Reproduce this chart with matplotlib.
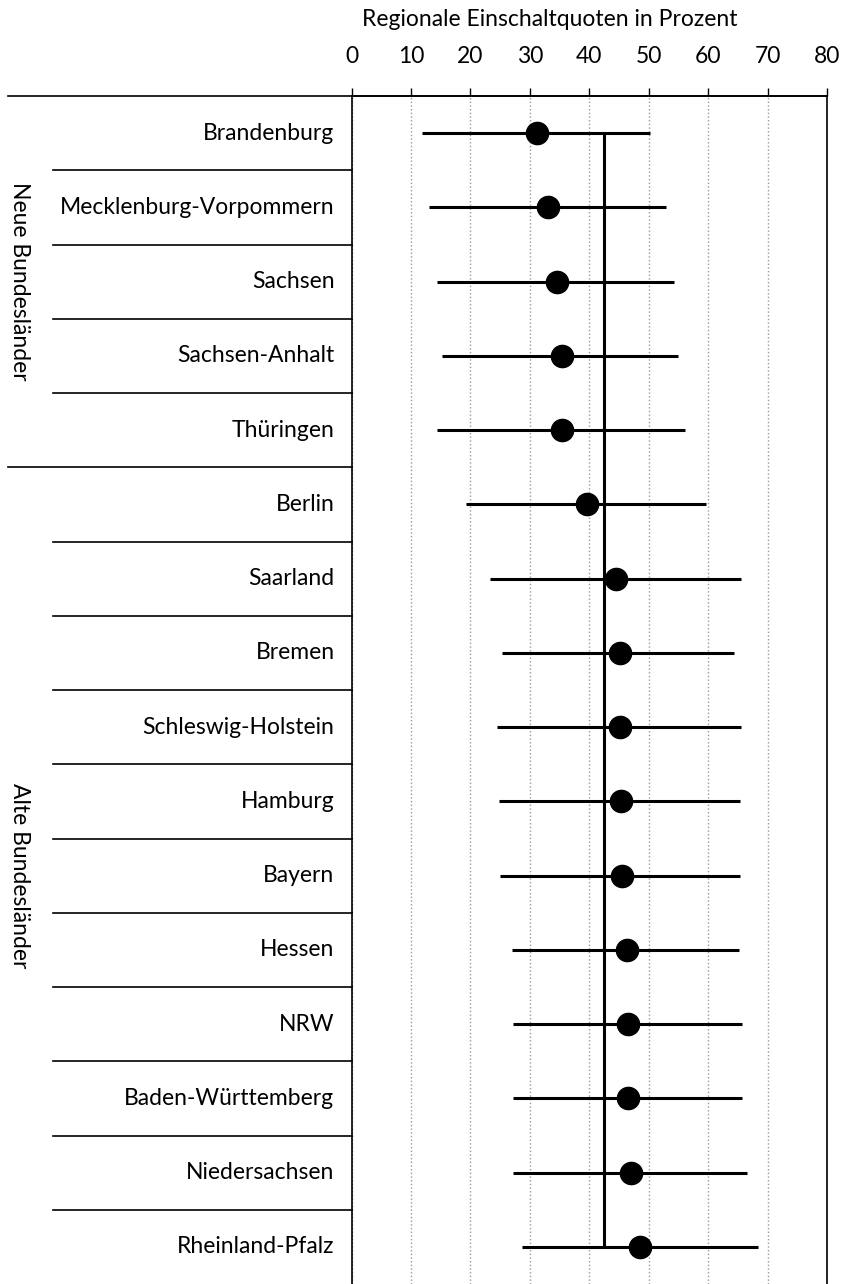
import matplotlib
matplotlib.use("Agg")
import matplotlib.pyplot as plt
from matplotlib.transforms import blended_transform_factory

states = ["Brandenburg", "Mecklenburg-Vorpommern", "Sachsen", "Sachsen-Anhalt", "Thüringen",
          "Berlin", "Saarland", "Bremen", "Schleswig-Holstein", "Hamburg", "Bayern",
          "Hessen", "NRW", "Baden-Württemberg", "Niedersachsen", "Rheinland-Pfalz"]
point = [31.2, 33.0, 34.5, 35.4, 35.4, 39.6, 44.5, 45.2, 45.2, 45.3, 45.5, 46.3, 46.6, 46.6, 47.0, 48.6]
lower = [11.8, 13.0, 14.4, 15.3, 14.4, 19.3, 23.3, 25.3, 24.5, 24.8, 25.0, 27.0, 27.2, 27.2, 27.1, 28.7]
upper = [50.2, 52.9, 54.3, 55.0, 56.1, 59.6, 65.5, 64.4, 65.5, 65.4, 65.4, 65.2, 65.7, 65.7, 66.5, 68.4]
overall_mean = 42.4
groups = ["Neue Bundesländer", "Alte Bundesländer"]
group_sizes = [5, 11]
xticks = [0, 10, 20, 30, 40, 50, 60, 70, 80]
title = "Regionale Einschaltquoten in Prozent"

FONT = ["Lato", "DejaVu Sans"]
plt.rcParams['font.family'] = FONT
FS = 16.5

W, H = 844, 1284
fig = plt.figure(figsize=(W / 100, H / 100), dpi=100)
x0, x1, ytop = 351.5, 827, 96
ax = fig.add_axes([x0 / W, 0, (x1 - x0) / W, 1 - ytop / H])

n = len(states)
ys = list(range(n))
ax.set_xlim(0, 80)
ax.set_ylim(n - 0.5, -0.5)

ax.xaxis.tick_top()
ax.set_xticks(xticks)
ax.set_xticklabels([str(t) for t in xticks], fontsize=FS)
ax.tick_params(axis='x', direction='out', length=6, width=1, pad=15, colors='black')
ax.set_yticks([])
ax.grid(axis='x', linestyle=':', color='#999999', linewidth=1)
ax.set_axisbelow(True)
ax.spines['bottom'].set_visible(False)
for s in ['left', 'right', 'top']:
    ax.spines[s].set_linewidth(1.2)

ax.hlines(ys, lower, upper, colors='black', linewidth=2.2, zorder=3)
ax.vlines(overall_mean, ys[0], ys[-1], colors='black', linewidth=2.2, zorder=3)
ax.plot(point, ys, 'o', color='black', markersize=16, zorder=4)

trans = blended_transform_factory(ax.transAxes, ax.transData)
axw = x1 - x0
for i, name in enumerate(states):
    ax.text(-17 / axw, i, name, transform=trans, ha='right', va='center', fontsize=FS)

# table lines
ax.plot([-(x0 - 8) / axw, 1], [-0.5, -0.5], transform=trans, color='black', lw=1.2, clip_on=False)
boundaries = []
c = 0
for g in group_sizes[:-1]:
    c += g
    boundaries.append(c - 0.5)
for k in range(1, n):
    yb = k - 0.5
    start = 8 if yb in boundaries else 53
    ax.plot([-(x0 - start) / axw, 0], [yb, yb], transform=trans, color='black', lw=1.2, clip_on=False)

c = 0
for g, sz in zip(groups, group_sizes):
    mid = c + sz / 2 - 0.5
    ax.text(-(x0 - 19) / axw, mid, g, transform=trans, ha='center', va='center',
            rotation=270, fontsize=FS)
    c += sz

fig.text(550 / W, 1 - 19 / H, title, ha='center', va='center', fontsize=FS)

fig.savefig("out.png", dpi=100)
